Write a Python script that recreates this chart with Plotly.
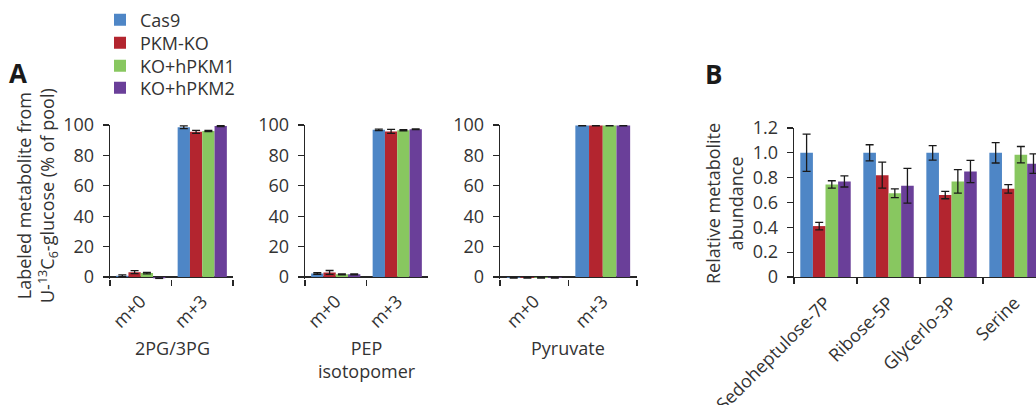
import plotly.graph_objects as go

W, H = 1036, 405

series = ["Cas9", "PKM-KO", "KO+hPKM1", "KO+hPKM2"]
colors = ["#4E86C6", "#B3252F", "#88C760", "#6A3F99"]

iso_cats = ["m+0", "m+3"]

# 2PG/3PG labeling (% of pool), per series: [m+0, m+3]
pg_values = [[0.8, 98.5], [3.2, 95.5], [2.6, 96.0], [-0.8, 99.3]]
pg_errors = [[0.6, 0.9], [1.0, 1.0], [0.5, 0.4], [0.3, 0.3]]

# PEP isotopomer
pep_values = [[2.3, 96.8], [3.0, 95.8], [1.8, 96.6], [1.8, 97.2]]
pep_errors = [[0.5, 0.5], [1.3, 1.3], [0.3, 0.4], [0.3, 0.3]]

# Pyruvate
pyr_values = [[-0.5, 99.6], [-0.5, 99.6], [-0.5, 99.6], [-0.5, 99.6]]
pyr_errors = [[0.2, 0.2], [0.2, 0.2], [0.2, 0.2], [0.2, 0.2]]

# Panel B relative abundance
metabolites = ["Sedoheptulose-7P", "Ribose-5P", "Glycerlo-3P", "Serine"]
rel_values = [[1.0, 1.0, 1.0, 1.0],
              [0.41, 0.82, 0.66, 0.71],
              [0.745, 0.675, 0.77, 0.985],
              [0.77, 0.735, 0.85, 0.913]]
rel_errors = [[0.15, 0.065, 0.058, 0.082],
              [0.03, 0.105, 0.03, 0.034],
              [0.03, 0.035, 0.094, 0.066],
              [0.045, 0.14, 0.09, 0.079]]

a_yticks = [0, 20, 40, 60, 80, 100]
b_yticks = [0, 0.2, 0.4, 0.6, 0.8, 1.0, 1.2]
b_yticktext = ["0", "0.2", "0.4", "0.6", "0.8", "1.0", "1.2"]

FONT = "Open Sans"
TXT = "#333333"
AX = "#262626"
FS = 18

def px_x(p):
    return p / W

def px_y(p):
    return 1 - p / H

fig = go.Figure()

panels = [
    ("x", "y", iso_cats, pg_values, pg_errors),
    ("x2", "y2", iso_cats, pep_values, pep_errors),
    ("x3", "y3", iso_cats, pyr_values, pyr_errors),
    ("x4", "y4", metabolites, rel_values, rel_errors),
]

legend_names = ["legend", "legend2", "legend3", "legend4"]

for pi, (xa, ya, cats, vals, errs) in enumerate(panels):
    for si, name in enumerate(series):
        fig.add_trace(go.Bar(
            x=cats, y=vals[si], name=name,
            marker=dict(color=colors[si], line=dict(width=0)),
            error_y=dict(type="data", array=errs[si], color="#1a1a1a",
                         thickness=1.3, width=4),
            xaxis=xa, yaxis=ya,
            showlegend=(pi == 0),
            legend=legend_names[si],
            legendgroup=name,
        ))

common_font = dict(family=FONT, size=FS, color=TXT)

a_dom_y = [px_y(279.3), px_y(125)]
b_dom_y = [px_y(277), px_y(128)]

xdoms = [[px_x(110), px_x(233)], [px_x(305), px_x(428)],
         [px_x(500), px_x(637)], [px_x(794), 1.0]]

layout = dict(
    width=W, height=H,
    margin=dict(l=0, r=0, t=0, b=0, pad=0, autoexpand=False),
    paper_bgcolor="white", plot_bgcolor="white",
    barmode="group", bargap=0.2, bargroupgap=0,
    font=common_font,
    hovermode=False,
)

for i in range(4):
    xk = "xaxis" if i == 0 else f"xaxis{i+1}"
    yk = "yaxis" if i == 0 else f"yaxis{i+1}"
    yref = "y" if i == 0 else f"y{i+1}"
    xref = "x" if i == 0 else f"x{i+1}"
    isB = (i == 3)
    layout[xk] = dict(
        domain=xdoms[i], anchor=yref, automargin=False,
        type="category",
        range=[-0.5, 3.34] if isB else [-0.5, 1.5],
        showline=isB, linecolor=AX, linewidth=1.3,
        ticks="outside", tickson="boundaries", ticklen=6, tickwidth=1.3,
        tickcolor=AX, tickangle=-45, ticklabelstandoff=7,
        showgrid=False, zeroline=False,
        tickfont=common_font,
    )
    if isB:
        layout[yk] = dict(
            domain=b_dom_y, anchor=xref, range=[0, 1.2], automargin=False,
            tickvals=b_yticks, ticktext=b_yticktext,
            showline=True, linecolor=AX, linewidth=1.3,
            ticks="outside", ticklen=6, tickwidth=1.3, tickcolor=AX,
            ticklabelstandoff=5,
            showgrid=False, zeroline=False, tickfont=common_font,
        )
    else:
        layout[yk] = dict(
            domain=a_dom_y, anchor=xref, range=[-1.5, 100], automargin=False,
            tickvals=a_yticks,
            showline=True, linecolor=AX, linewidth=1.3,
            ticks="outside", ticklen=6, tickwidth=1.3, tickcolor=AX,
            ticklabelstandoff=5,
            showgrid=False, zeroline=True, zerolinecolor=AX, zerolinewidth=1.3,
            tickfont=common_font,
        )

# Legends: one per series, stacked at the top-left
leg_y = [20, 43, 66, 88]
for si in range(4):
    lk = legend_names[si]
    layout[lk] = dict(
        x=px_x(100), y=px_y(leg_y[si]), xanchor="left", yanchor="middle",
        font=dict(family=FONT, size=FS, color=TXT),
        bgcolor="rgba(0,0,0,0)", borderwidth=0,
        itemclick=False, itemdoubleclick=False,
    )

def ann(text, x, y, size=FS, color=TXT, angle=0):
    return dict(text=text, x=px_x(x), y=px_y(y), xref="paper", yref="paper",
                xanchor="center", yanchor="middle", textangle=angle,
                showarrow=False, font=dict(family=FONT, size=size, color=color))

annotations = [
    ann("<b>A</b>", 18, 73, size=26, color="#1a1a1a"),
    ann("<b>B</b>", 713, 74, size=26, color="#1a1a1a"),
    ann("Labeled metabolite from<br>U-<sup>13</sup>C<sub>6</sub>-glucose (% of pool)",
        37, 196, angle=-90),
    ann("Relative metabolite<br>abundance", 725, 204, angle=-90),
    ann("2PG/3PG", 172, 348),
    ann("PEP<br>isotopomer", 367, 359),
    ann("Pyruvate", 568, 348),
]
layout["annotations"] = annotations

fig.update_layout(**layout)
fig.write_html(
    "out.html",
    config={"displayModeBar": False, "staticPlot": True},
    post_script="document.body.style.margin='0';document.body.style.overflow='hidden';",
)
